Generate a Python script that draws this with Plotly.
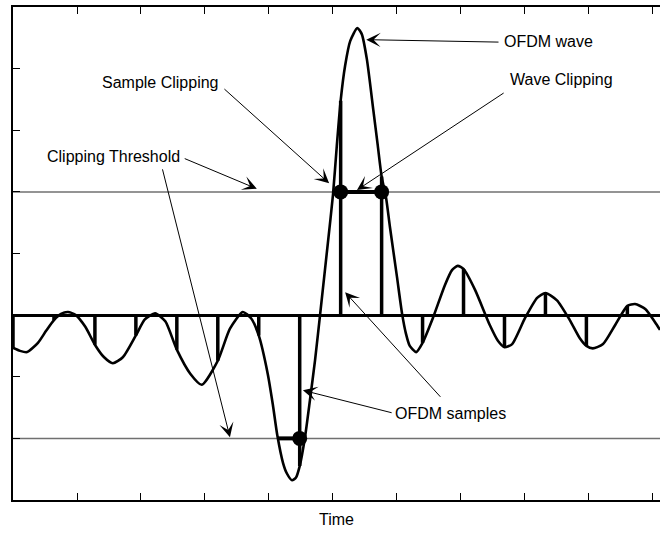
import plotly.graph_objects as go

# Continuous OFDM waveform (time, amplitude)
wave_t = [0.0, 0.11, 0.22, 0.39, 0.52, 0.64, 0.75, 0.86, 0.98, 1.13,
          1.28, 1.42, 1.56, 1.72, 1.92, 2.06, 2.22, 2.38, 2.56, 2.77,
          2.95, 3.20, 3.39, 3.59, 3.72, 3.84, 3.98, 4.06, 4.13, 4.22,
          4.28, 4.36, 4.42, 4.48, 4.56, 4.64, 4.72, 4.80, 4.92, 5.00,
          5.06, 5.12, 5.19, 5.27, 5.38, 5.45, 5.53, 5.63, 5.70, 5.76,
          5.83, 5.89, 6.00, 6.08, 6.14, 6.20, 6.30, 6.40, 6.56, 6.75,
          6.86, 6.95, 7.04, 7.22, 7.45, 7.58, 7.68, 7.80, 8.00, 8.19,
          8.32, 8.50, 8.70, 8.86, 8.96, 9.06, 9.22, 9.41, 9.60, 9.72,
          9.88, 10.03, 10.11]
wave_v = [-0.53, -0.58, -0.60, -0.45, -0.25, -0.08, 0.02, 0.05, 0.00, -0.19,
          -0.48, -0.68, -0.78, -0.68, -0.33, -0.07, 0.03, -0.10, -0.56, -0.95,
          -1.13, -0.74, -0.22, 0.05, -0.05, -0.33, -0.95, -1.45, -1.95, -2.40,
          -2.57, -2.68, -2.64, -2.45, -2.00, -1.38, -0.73, 0.02, 1.17, 1.95,
          2.75, 3.48, 4.05, 4.45, 4.66, 4.56, 4.15, 3.33, 2.75, 2.25,
          1.90, 1.43, 0.62, 0.02, -0.30, -0.50, -0.60, -0.45, -0.05, 0.49,
          0.73, 0.80, 0.75, 0.41, -0.16, -0.42, -0.52, -0.47, -0.05, 0.28,
          0.36, 0.24, -0.08, -0.38, -0.50, -0.54, -0.47, -0.16, 0.15, 0.18,
          0.10, -0.11, -0.24]

# Discrete OFDM samples
sample_t = [0.0, 0.64, 1.28, 1.92, 2.56, 3.20, 3.84, 4.48,
            5.12, 5.76, 6.40, 7.04, 7.68, 8.32, 8.96, 9.60]
sample_v = [-0.53, -0.08, -0.48, -0.33, -0.56, -0.74, -0.33, -2.45,
            3.48, 2.25, -0.45, 0.75, -0.52, 0.36, -0.50, 0.15]

threshold = 2.0

# Portions of the waveform held at the threshold
clip_hi_t = [5.12, 5.76]
clip_lo_t = [4.13, 4.48]

x_ticks = [0, 1, 2, 3, 4, 5, 6, 7, 8, 9, 10]
y_ticks = [-3, -2, -1, 0, 1, 2, 3, 4, 5]

FONT = "Liberation Sans, Arial, sans-serif"

fig = go.Figure()

# Threshold levels
for lvl in (threshold, -threshold):
    fig.add_shape(type="line", xref="paper", x0=0, x1=1, yref="y", y0=lvl, y1=lvl,
                  line=dict(color="#707070", width=1.5), layer="below")

# Stems from the baseline to each sample
stem_x, stem_y = [], []
for t, v in zip(sample_t, sample_v):
    stem_x += [t, t, None]
    stem_y += [0, v, None]
fig.add_trace(go.Scatter(x=stem_x, y=stem_y, mode="lines",
                         line=dict(color="black", width=3.5), hoverinfo="skip"))

# Waveform
fig.add_trace(go.Scatter(x=wave_t, y=wave_v, mode="lines",
                         line=dict(color="black", width=2.6, shape="spline", smoothing=0.6),
                         hoverinfo="skip"))

# Clipped wave segments
fig.add_trace(go.Scatter(x=clip_hi_t, y=[threshold] * len(clip_hi_t), mode="lines",
                         line=dict(color="black", width=4), hoverinfo="skip"))
fig.add_trace(go.Scatter(x=clip_lo_t, y=[-threshold] * len(clip_lo_t), mode="lines",
                         line=dict(color="black", width=4), hoverinfo="skip"))

# Clipped samples
clip_t = [t for t, v in zip(sample_t, sample_v) if abs(v) > threshold]
clip_v = [threshold if v > 0 else -threshold for v in sample_v if abs(v) > threshold]
fig.add_trace(go.Scatter(x=clip_t, y=clip_v, mode="markers",
                         marker=dict(color="black", size=15), hoverinfo="skip"))

# Labels
labels = [
    ("OFDM wave", 7.64, 4.44),
    ("Wave Clipping", 7.73, 3.82),
    ("Sample Clipping", 1.36, 3.78),
    ("Clipping Threshold", 0.50, 2.57),
    ("OFDM samples", 5.94, -1.59),
]
for text, x, y in labels:
    fig.add_annotation(x=x, y=y, text=text, showarrow=False, xanchor="left", yanchor="middle",
                       font=dict(family=FONT, size=16, color="black"))

# Arrows: (tip x, tip y, tail x, tail y)
arrows = [
    (5.52, 4.47, 7.61, 4.43),
    (5.375, 2.03, 7.69, 3.62),
    (4.94, 2.14, 3.28, 3.69),
    (3.81, 2.05, 2.66, 2.55),
    (3.39, -1.98, 2.33, 2.39),
    (4.53, -1.22, 5.94, -1.59),
    (5.19, 0.37, 6.70, -1.35),
]
for x, y, ax, ay in arrows:
    fig.add_annotation(x=x, y=y, ax=ax, ay=ay, xref="x", yref="y", axref="x", ayref="y",
                       text="", showarrow=True, arrowhead=3, arrowsize=2.4, arrowwidth=1,
                       arrowcolor="black", standoff=0, startstandoff=0)

fig.update_layout(
    width=660, height=533,
    margin=dict(l=13, r=0, t=7, b=33),
    paper_bgcolor="white", plot_bgcolor="white",
    showlegend=False,
    font=dict(family=FONT, size=16, color="black"),
    xaxis=dict(range=[0, 10.11], tickvals=x_ticks, showticklabels=False,
               ticks="inside", ticklen=7, tickwidth=1, tickcolor="black",
               showline=True, linecolor="black", linewidth=1.5, mirror="ticks",
               showgrid=False, zeroline=False,
               title=dict(text="Time", font=dict(family=FONT, size=16), standoff=13)),
    yaxis=dict(range=[-3, 5], tickvals=y_ticks, showticklabels=False,
               ticks="inside", ticklen=7, tickwidth=1, tickcolor="black",
               showline=True, linecolor="black", linewidth=1.5, mirror=False,
               showgrid=False, zeroline=True, zerolinecolor="black", zerolinewidth=2.5),
)

fig.write_html("out.html")
